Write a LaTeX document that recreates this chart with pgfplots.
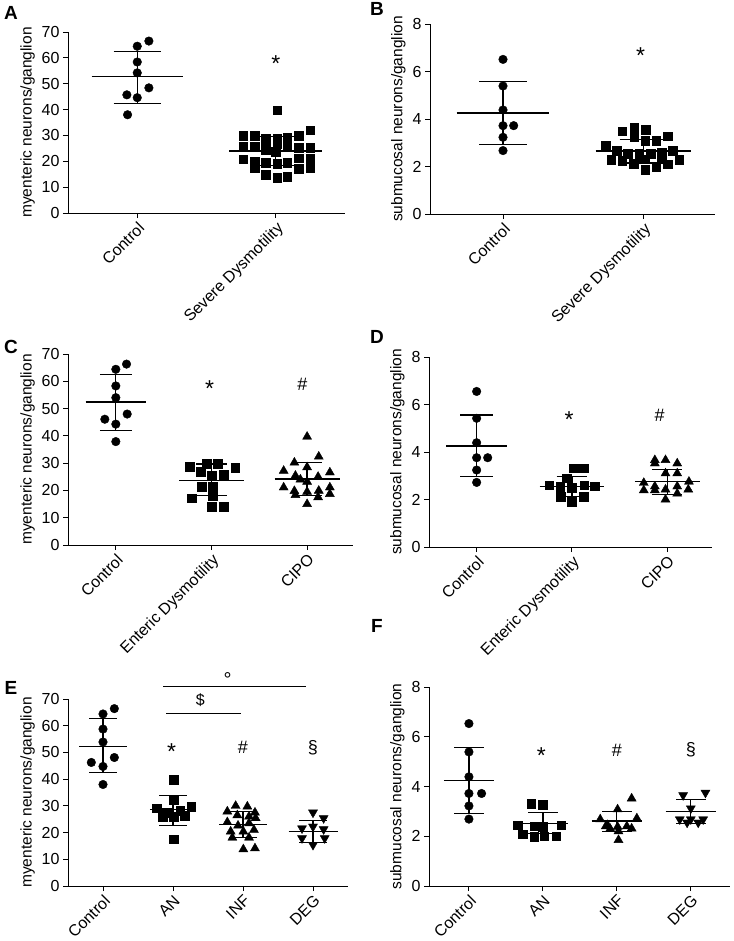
\documentclass[border=0pt]{standalone}
\usepackage{fontspec}
\setmainfont{Liberation Sans}
\usepackage{pgfplots}
\pgfplotsset{compat=1.18}
\newcommand{\fs}{\fontsize{16}{18}\selectfont}
\newcommand{\fl}{\fontsize{15.5}{17}\selectfont}
\newcommand{\fsig}{\fontsize{18}{20}\selectfont}
\newcommand{\fast}{\fontsize{23}{25}\selectfont}
\pgfplotsset{
 panel/.style={scale only axis, axis lines=left, axis line style={-, line width=1pt},
   tick align=outside, major tick length=5pt, tick style={black, line width=1pt},
   ymin=0, clip=false, tick label style={font=\fs}, label style={font=\fl},
   xticklabel style={rotate=45, anchor=north east, inner sep=2pt},
   /pgf/number format/assume math mode=true, anchor=south west},
 myy/.style={ymax=70, ytick={0,10,...,70}, ylabel={myenteric neurons/ganglion}},
 suby/.style={ymax=8, ytick={0,2,...,8}, ylabel={submucosal neurons/ganglion}},
 circ/.style={only marks, black, mark=*, mark size=4.3pt},
 sq/.style={only marks, black, mark=square*, mark size=4.3pt},
 tri/.style={only marks, black, mark=triangle*, mark size=5.2pt},
 itri/.style={only marks, black, mark=triangle*, mark size=5.2pt, mark options={rotate=180}},
}
% mean and SD: x, mean, low, high, half width of mean line, half width of caps
\newcommand{\msd}[6]{%
 \pgfmathsetmacro{\ma}{#1-#5}\pgfmathsetmacro{\mb}{#1+#5}%
 \pgfmathsetmacro{\ca}{#1-#6}\pgfmathsetmacro{\cb}{#1+#6}%
 \addplot[black, line width=1.2pt, mark=none] coordinates {(\ma,#2) (\mb,#2)};
 \addplot[black, line width=1.2pt, mark=none] coordinates {(#1,#3) (#1,#4)};
 \addplot[black, line width=1.2pt, mark=none] coordinates {(\ca,#3) (\cb,#3)};
 \addplot[black, line width=1.2pt, mark=none] coordinates {(\ca,#4) (\cb,#4)};
}
\begin{document}
\begin{tikzpicture}
\useasboundingbox (0,0) rectangle (733pt,-941pt);
\node[font=\fontsize{19}{20}\selectfont\bfseries] at (11pt,-13pt) {A};
\node[font=\fontsize{19}{20}\selectfont\bfseries] at (377pt,-9pt) {B};
\node[font=\fontsize{19}{20}\selectfont\bfseries] at (11pt,-347pt) {C};
\node[font=\fontsize{19}{20}\selectfont\bfseries] at (377pt,-337pt) {D};
\node[font=\fontsize{19}{20}\selectfont\bfseries] at (11pt,-688pt) {E};
\node[font=\fontsize{19}{20}\selectfont\bfseries] at (377pt,-626pt) {F};

% ---------------- A
\begin{axis}[panel, myy, at={(68pt,-213pt)}, width=277pt, height=181pt,
  xmin=-0.5, xmax=1.5, xtick={0,1}, xticklabels={Control, Severe Dysmotility}]
\addplot[circ] coordinates {(0.084,66.5) (0,64.5) (0,58.4) (0,54.2) (-0.075,45.7) (0.084,48.4) (0,44.6) (-0.07,38.0)};
\addplot[sq] coordinates {(1.01,39.8) (1.25,32.1)
 (0.764,29.8) (0.848,29.8) (0.928,28.9) (1.01,28.9) (1.082,29.2) (1.166,29.8)
 (0.764,25.7) (0.848,25.7) (0.928,27) (1.01,26.6) (1.082,25.7) (1.166,25.3) (1.25,25.3) (1.0,23.8)
 (0.764,20.8) (0.928,19.5) (1.01,19) (1.082,19.5) (1.166,21.2) (1.25,21.2)
 (0.848,17.3) (1.166,17.1) (1.25,17.6)
 (0.928,14.8) (1.01,13.7) (1.082,14.1) (0.848,20) (0.928,24.5)};
\msd{0}{52.8}{42.5}{62.5}{0.33}{0.17}
\msd{1}{24.0}{18.4}{29.5}{0.335}{0.17}
\node[font=\fast] at (axis cs:1,57.9) {*};
\end{axis}

% ---------------- B
\begin{axis}[panel, suby, at={(430pt,-214pt)}, width=285pt, height=190pt,
  xmin=-0.52, xmax=1.51, xtick={0,1}, xticklabels={Control, Severe Dysmotility}]
\addplot[circ] coordinates {(0,6.51) (0,5.39) (0,4.38) (0,3.72) (0.076,3.72) (0,3.23) (0,2.67)};
\addplot[sq] coordinates {(0.85,3.49) (0.935,3.66) (1.015,3.56) (0.935,3.25) (1.012,3.08) (1.09,3.08) (1.173,3.28)
 (0.73,2.87) (0.81,2.66) (0.89,2.53) (0.97,2.55) (1.05,2.55) (1.13,2.6) (1.21,2.66)
 (0.77,2.29) (0.85,2.24) (0.93,2.13) (1.012,1.87) (1.09,2.0) (1.173,2.1) (1.256,2.29) (1.012,2.3) (0.97,2.4) (1.13,2.4)};
\msd{0}{4.25}{2.91}{5.58}{0.33}{0.17}
\msd{1}{2.65}{2.15}{3.15}{0.34}{0.17}
\node[font=\fast] at (axis cs:0.98,6.69) {*};
\end{axis}

% ---------------- C
\begin{axis}[panel, myy, at={(68pt,-545pt)}, width=285pt, height=191pt,
  xmin=-0.5, xmax=2.48, xtick={0,1,2}, xticklabels={Control, Enteric Dysmotility, CIPO}]
\addplot[circ] coordinates {(0.112,66.3) (0,64.4) (0,58.3) (0,54) (-0.115,46.1) (0.119,48) (0,44.3) (0,37.9)};
\addplot[sq] coordinates {(0.773,28.8) (0.948,29.7) (1.063,29.7) (1.248,28.3) (0.888,26.9) (1.003,25.4) (1.126,25.7)
 (0.9,21.3) (1.01,21.4) (0.794,17.1) (1.003,14) (1.126,14) (1.01,18)};
\addplot[tri] coordinates {(2,39.7) (2.122,32.4) (1.867,30.2) (2,28.5) (1.755,27.2) (2.238,26.6) (1.878,25.4) (2.115,25)
 (2,23.2) (1.93,24) (1.755,21.1) (1.867,19.8) (2,19.5) (2.122,19.9) (2.238,21.1) (2.238,18.7) (1.878,18.3) (2.115,17.5) (2,15)};
\msd{0}{52.4}{42.1}{62.5}{0.315}{0.166}
\msd{1}{23.6}{18.1}{29.7}{0.337}{0.16}
\msd{2}{24.2}{18.0}{30.2}{0.34}{0.16}
\node[font=\fast] at (axis cs:0.98,57.4) {*};
\node[font=\fsig] at (axis cs:1.95,59) {\#};
\end{axis}

% ---------------- D
\begin{axis}[panel, suby, at={(429pt,-547pt)}, width=283pt, height=190pt,
  xmin=-0.5, xmax=2.47, xtick={0,1,2}, xticklabels={Control, Enteric Dysmotility, CIPO}]
\addplot[circ] coordinates {(0,6.55) (0,5.42) (0,4.39) (0,3.76) (0.116,3.76) (0,3.24) (0,2.72)};
\addplot[sq] coordinates {(1.018,3.31) (1.123,3.31) (0.947,2.89) (0.761,2.61) (0.877,2.54) (1,2.49) (1.242,2.56) (1.13,2.61)
 (0.884,2.11) (1,1.9) (1.123,2.11) (0.877,2.32)};
\addplot[tri] coordinates {(1.87,3.66) (1.87,3.52) (1.982,3.66) (2.105,3.52) (1.982,3.1) (2.105,3.1) (1.754,2.7) (2.228,2.75)
 (1.754,2.39) (1.87,2.39) (1.982,2.42) (1.982,2.0) (2.105,2.25) (2.221,2.42) (1.87,2.55) (2.105,2.55)};
\msd{0}{4.25}{2.96}{5.56}{0.32}{0.17}
\msd{1}{2.54}{2.12}{2.96}{0.34}{0.16}
\msd{2}{2.75}{2.22}{3.28}{0.34}{0.16}
\node[font=\fast] at (axis cs:0.97,5.35) {*};
\node[font=\fsig] at (axis cs:1.92,5.56) {\#};
\end{axis}

% ---------------- E
\begin{axis}[panel, myy, at={(68pt,-886pt)}, width=280pt, height=187pt,
  xmin=-0.5, xmax=3.5, xtick={0,1,2,3}, xticklabels={Control, AN, INF, DEG}]
\addplot[circ] coordinates {(0.162,66.4) (0,64.4) (0,58.75) (0,53.9) (-0.167,46.25) (0.162,48.1) (0,44.75) (0,38)};
\addplot[sq] coordinates {(1.01,39.75) (1.01,32.25) (0.771,29.1) (1.262,29.75) (1.105,28.1) (0.914,27.5) (0.852,26) (1.01,26) (1.167,26.3) (1.01,17.5)};
\addplot[tri] coordinates {(1.895,30) (2.062,29.75) (1.776,27.9) (2.171,27.5) (1.919,26.5) (2.086,26) (2.181,25.4) (1.776,23.9)
 (1.929,22.6) (2.086,23.5) (1.824,20.4) (2.005,20.4) (2.157,21) (1.848,18.1) (2.086,18.1) (2.005,13.75) (2.171,14.1)};
\addplot[itri] coordinates {(3,27.5) (3.152,25.4) (2.843,21.6) (3,22.25) (3.152,21.25) (2.843,17.9) (3.167,17.9) (3,15.4)};
\msd{0}{52.25}{42.5}{62.6}{0.34}{0.2}
\msd{1}{28.5}{22.6}{33.9}{0.33}{0.2}
\msd{2}{23.1}{18.1}{27.9}{0.34}{0.2}
\msd{3}{20.5}{16.4}{24.5}{0.35}{0.2}
\node[font=\fast] at (axis cs:0.98,50.4) {*};
\node[font=\fsig] at (axis cs:2,51.9) {\#};
\node[font=\fsig] at (axis cs:3,51.9) {§};
\draw[line width=1pt] (axis cs:0.9,64.75) -- (axis cs:1.97,64.75);
\node[font=\fontsize{16}{18}\selectfont] at (axis cs:1.39,69.4) {\$};
\draw[line width=1pt] (axis cs:0.86,74.5) -- (axis cs:2.9,74.5);
\node[font=\fontsize{20}{22}\selectfont] at (axis cs:1.78,77.3) {°};
\end{axis}

% ---------------- F
\begin{axis}[panel, suby, at={(429pt,-886pt)}, width=301pt, height=199pt,
  xmin=-0.54, xmax=3.53, xtick={0,1,2,3}, xticklabels={Control, AN, INF, DEG}]
\addplot[circ] coordinates {(0,6.53) (0,5.39) (0,4.39) (0,3.72) (0.171,3.72) (0,3.22) (0,2.69)};
\addplot[sq] coordinates {(0.842,3.32) (1,3.28) (0.66,2.45) (0.88,2.4) (1,2.38) (1.248,2.45) (0.73,2.09) (0.88,1.98) (1.02,2.0) (1.18,2.0)};
\addplot[tri] coordinates {(2.2,3.52) (2.01,3.08) (1.775,2.68) (2.27,2.72) (1.874,2.45) (2.01,2.38) (2.135,2.4) (1.91,2.3) (2.2,2.31) (2.022,2.2) (1.85,2.4) (2.022,1.85)};
\addplot[itri] coordinates {(3.198,3.75) (2.896,3.65) (3,3.12) (2.851,2.68) (3,2.68) (3.167,2.68) (2.95,2.55) (3.1,2.55)};
\msd{0}{4.25}{2.92}{5.57}{0.34}{0.2}
\msd{1}{2.52}{2.1}{2.96}{0.34}{0.2}
\msd{2}{2.61}{2.18}{3.0}{0.34}{0.2}
\msd{3}{3.0}{2.52}{3.48}{0.34}{0.2}
\node[font=\fast] at (axis cs:0.98,5.26) {*};
\node[font=\fsig] at (axis cs:2,5.46) {\#};
\node[font=\fsig] at (axis cs:3,5.46) {§};
\end{axis}
\end{tikzpicture}
\end{document}
